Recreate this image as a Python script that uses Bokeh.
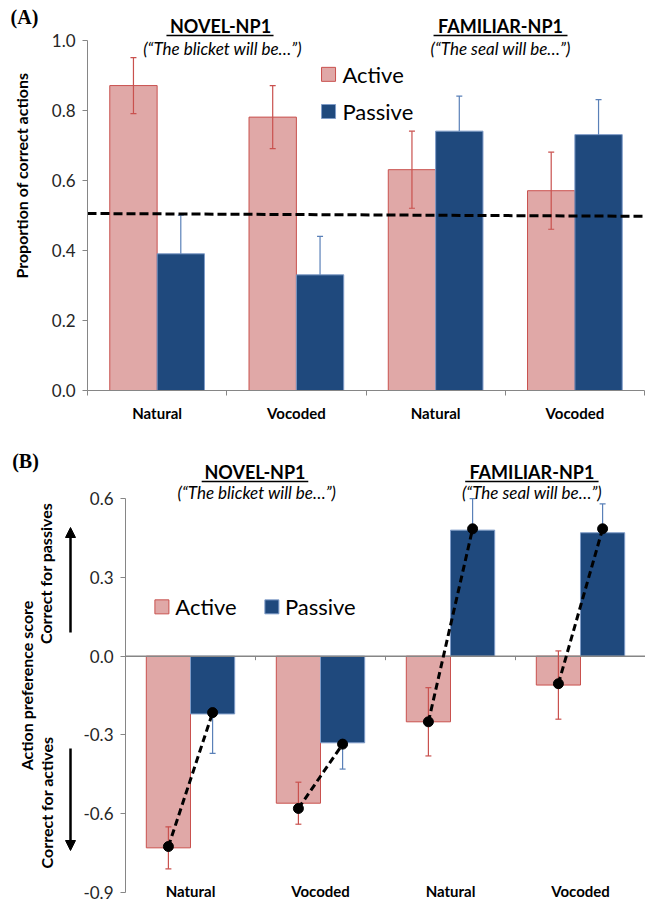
import numpy as np
from bokeh.plotting import figure
from bokeh.layouts import column, row
from bokeh.models import Range1d, FixedTicker, Arrow, NormalHead, NumeralTickFormatter
from bokeh.embed import file_html
from bokeh.resources import INLINE
from bokeh.core.properties import value

# ---------------- data ----------------
conditions = ["Natural", "Vocoded", "Natural", "Vocoded"]
groups = ["NOVEL-NP1", "FAMILIAR-NP1"]
subtitles = ["(\u201cThe blicket will be\u2026\u201d)", "(\u201cThe seal will be\u2026\u201d)"]
series = ["Active", "Passive"]

a_active = [0.87, 0.78, 0.63, 0.57]
a_active_err = [0.08, 0.09, 0.11, 0.11]
a_passive = [0.39, 0.33, 0.74, 0.73]
a_passive_err = [0.11, 0.11, 0.10, 0.10]
a_chance = [0.505, 0.497]
a_yticks = [0.0, 0.2, 0.4, 0.6, 0.8, 1.0]
a_ylabel = "Proportion of correct actions"

b_active = [-0.73, -0.56, -0.25, -0.11]
b_active_err = [0.08, 0.08, 0.13, 0.13]
b_passive = [-0.22, -0.33, 0.48, 0.47]
b_passive_err = [0.15, 0.10, 0.12, 0.11]
b_dot_active = [-0.725, -0.58, -0.25, -0.105]
b_dot_passive = [-0.215, -0.335, 0.485, 0.485]
b_yticks = [-0.9, -0.6, -0.3, 0.0, 0.3, 0.6]
b_ylabel = "Action preference score"
b_up_label = "Correct  for passives"
b_down_label = "Correct for actives"

# ---------------- style ----------------
FONT = "Lato"
PINK = "#E0A8A7"
RED = "#C9514E"
NAVY = "#1F497D"
NAVY_EDGE = "#7F9CC8"
ERR_BLUE = "#5A80B8"
GRAY = "#868686"
TXT = "#262626"
BW = 0.34
OFF = 0.17

n = len(conditions)
centers = [i + 0.5 for i in range(n)]
xa = [c - OFF for c in centers]
xp = [c + OFF for c in centers]


def style_common(p):
    p.outline_line_color = None
    p.xgrid.visible = False
    p.ygrid.visible = False
    p.background_fill_color = "white"
    p.border_fill_color = "white"


def yaxis_style(ax, ticks, bounds):
    ax.bounds = bounds
    ax.ticker = FixedTicker(ticks=ticks)
    ax.formatter = NumeralTickFormatter(format="0.0")
    ax.axis_line_color = GRAY
    ax.major_tick_line_color = GRAY
    ax.major_tick_out = 5
    ax.major_tick_in = 0
    ax.minor_tick_line_color = None
    ax.major_label_text_font = FONT
    ax.major_label_text_font_size = "17px"
    ax.major_label_text_color = TXT
    ax.major_label_standoff = 7


def strip(width, height, top):
    s = figure(width=width, height=height, x_range=Range1d(0, width), y_range=Range1d(-(top + height), -top),
               output_backend="svg", toolbar_location=None, x_axis_location=None, y_axis_location=None,
               min_border_left=0, min_border_right=0, min_border_top=0, min_border_bottom=0)
    style_common(s)
    return s


def errbars(p, x, vals, errs, color, both, scale_x):
    cap = 3.0 / scale_x
    lo, hi = [], []
    for v, e in zip(vals, errs):
        if both:
            lo.append(v - e)
            hi.append(v + e)
        else:
            s = 1 if v >= 0 else -1
            lo.append(v)
            hi.append(v + s * e)
    p.segment(x0=x, y0=lo, x1=x, y1=hi, line_color=color, line_width=1.2)
    ends = hi + (lo if both else [])
    xs = x + (x if both else [])
    p.segment(x0=[q - cap for q in xs], y0=ends, x1=[q + cap for q in xs], y1=ends,
              line_color=color, line_width=1.2)


# ================= Panel A =================
A_H = 440
A_TOP = 389 / 350.5
sA = strip(45, A_H, 0)
sA.text(x=[24], y=[-17], text=["(A)"], text_align="center", text_baseline="middle",
        text_font=value("Liberation Serif"), text_font_style="bold", text_font_size="20px", text_color="black")
sA.text(x=[21], y=[-197], text=[a_ylabel], angle=np.pi / 2, text_align="center", text_baseline="middle",
        text_font=value(FONT), text_font_style="bold", text_font_size="16px", text_color="black")

pA = figure(width=600, height=A_H, x_range=Range1d(0, n), y_range=Range1d(0, A_TOP),
            output_backend="svg", toolbar_location=None,
            min_border_left=42, min_border_right=1, min_border_top=1, min_border_bottom=50)
style_common(pA)
yaxis_style(pA.yaxis[0], a_yticks, (0, 1))

xax = pA.xaxis[0]
xax.ticker = FixedTicker(ticks=centers, minor_ticks=list(range(n + 1)))
xax.major_label_overrides = {c: t for c, t in zip(centers, conditions)}
xax.axis_line_color = GRAY
xax.major_tick_out = 0
xax.major_tick_in = 0
xax.minor_tick_line_color = GRAY
xax.minor_tick_out = 5
xax.minor_tick_in = 0
xax.major_label_text_font = FONT
xax.major_label_text_font_style = "bold"
xax.major_label_text_font_size = "15px"
xax.major_label_text_color = "black"
xax.major_label_standoff = 8

sxA = 557 / n
pA.vbar(x=xa, top=a_active, bottom=0, width=BW, fill_color=PINK, line_color=RED, line_width=1)
pA.vbar(x=xp, top=a_passive, bottom=0, width=BW, fill_color=NAVY, line_color=NAVY_EDGE, line_width=1)
errbars(pA, xa, a_active, a_active_err, RED, True, sxA)
errbars(pA, xp, a_passive, a_passive_err, ERR_BLUE, False, sxA)
pA.line(x=[0, n], y=a_chance, line_color="black", line_width=3, line_dash="9 4")

pA.text(x=[0.955, 2.966], y=[1.041, 1.041], text=groups, text_align="center", text_baseline="middle",
        text_font=value(FONT), text_font_style="bold", text_font_size="18px", text_color="black")
pA.segment(x0=[0.567, 2.485], y0=[1.013, 1.013], x1=[1.336, 3.447], y1=[1.013, 1.013],
           line_color="black", line_width=1.5)
pA.text(x=[0.969, 2.966], y=[0.976, 0.976], text=subtitles, text_align="center", text_baseline="middle",
        text_font=value(FONT), text_font_style="italic", text_font_size="17px", text_color="black")

pA.scatter(x=[1.731, 1.731], y=[0.902, 0.796], marker="square", size=14,
           fill_color=[PINK, NAVY], line_color=[RED, NAVY_EDGE])
pA.text(x=[1.831, 1.831], y=[0.902, 0.796], text=series, text_align="left", text_baseline="middle",
        text_font=value(FONT), text_font_size="22px", text_color="black")

# ================= Panel B =================
B_H = 464
PX = 262.0
B_TOP = 0.6 + 58 / PX
B_BOT = -0.9 - 12 / PX
sB = strip(80, B_H, A_H)
sB.text(x=[25], y=[-460], text=["(B)"], text_align="center", text_baseline="middle",
        text_font=value("Liberation Serif"), text_font_style="bold", text_font_size="20px", text_color="black")
sB.text(x=[26, 45, 46], y=[-685, -571, -802], text=[b_ylabel, b_up_label, b_down_label], angle=np.pi / 2,
        text_align="center", text_baseline="middle",
        text_font=value(FONT), text_font_style="bold", text_font_size="16px", text_color="black")
sB.add_layout(Arrow(end=NormalHead(size=10, fill_color="black", line_color="black"),
                    x_start=70, y_start=-632, x_end=70, y_end=-527, line_color="black", line_width=2.5))
sB.add_layout(Arrow(end=NormalHead(size=10, fill_color="black", line_color="black"),
                    x_start=70, y_start=-748, x_end=70, y_end=-850, line_color="black", line_width=2.5))

pB = figure(width=565, height=B_H, x_range=Range1d(0, n), y_range=Range1d(B_BOT, B_TOP),
            output_backend="svg", toolbar_location=None, x_axis_location=None,
            min_border_left=43, min_border_right=0, min_border_top=0, min_border_bottom=0)
style_common(pB)
yaxis_style(pB.yaxis[0], b_yticks, (-0.9, 0.6))

sxB = 522 / n
pB.vbar(x=xa, top=b_active, bottom=0, width=BW, fill_color=PINK, line_color=RED, line_width=1)
pB.vbar(x=xp, top=b_passive, bottom=0, width=BW, fill_color=NAVY, line_color=NAVY_EDGE, line_width=1)
pB.line(x=[0, n], y=[0, 0], line_color=GRAY, line_width=1.5)
pB.segment(x0=[1, 2, 3], y0=[0, 0, 0], x1=[1, 2, 3], y1=[-4 / PX] * 3, line_color=GRAY, line_width=1)
errbars(pB, xa, b_active, b_active_err, RED, True, sxB)
errbars(pB, xp, b_passive, b_passive_err, ERR_BLUE, False, sxB)
pB.segment(x0=xa, y0=b_dot_active, x1=xp, y1=b_dot_passive, line_color="black", line_width=3,
           line_dash="7 4")
pB.scatter(x=xa + xp, y=b_dot_active + b_dot_passive, marker="circle", size=10,
           fill_color="black", line_color="black")

pB.text(x=centers, y=[-0.9 + 1 / PX] * n, text=conditions, text_align="center", text_baseline="middle",
        text_font=value(FONT), text_font_style="bold", text_font_size="15px", text_color="black")

pB.text(x=[0.996, 3.126], y=[0.6 + 27 / PX] * 2, text=groups, text_align="center", text_baseline="middle",
        text_font=value(FONT), text_font_style="bold", text_font_size="18px", text_color="black")
pB.segment(x0=[0.586, 2.613], y0=[0.6 + 17 / PX] * 2, x1=[1.406, 3.639], y1=[0.6 + 17 / PX] * 2,
           line_color="black", line_width=1.5)
pB.text(x=[1.01, 3.126], y=[0.6 + 6 / PX] * 2, text=subtitles, text_align="center", text_baseline="middle",
        text_font=value(FONT), text_font_style="italic", text_font_size="17px", text_color="black")

pB.scatter(x=[0.28, 1.126], y=[0.6 - 108 / PX] * 2, marker="square", size=14,
           fill_color=[PINK, NAVY], line_color=[RED, NAVY_EDGE])
pB.text(x=[0.383, 1.226], y=[0.6 - 108 / PX] * 2, text=series, text_align="left", text_baseline="middle",
        text_font=value(FONT), text_font_size="22px", text_color="black")

layout = column(row(sA, pA), row(sB, pB))
open("out.html", "w").write(file_html(layout, INLINE))
